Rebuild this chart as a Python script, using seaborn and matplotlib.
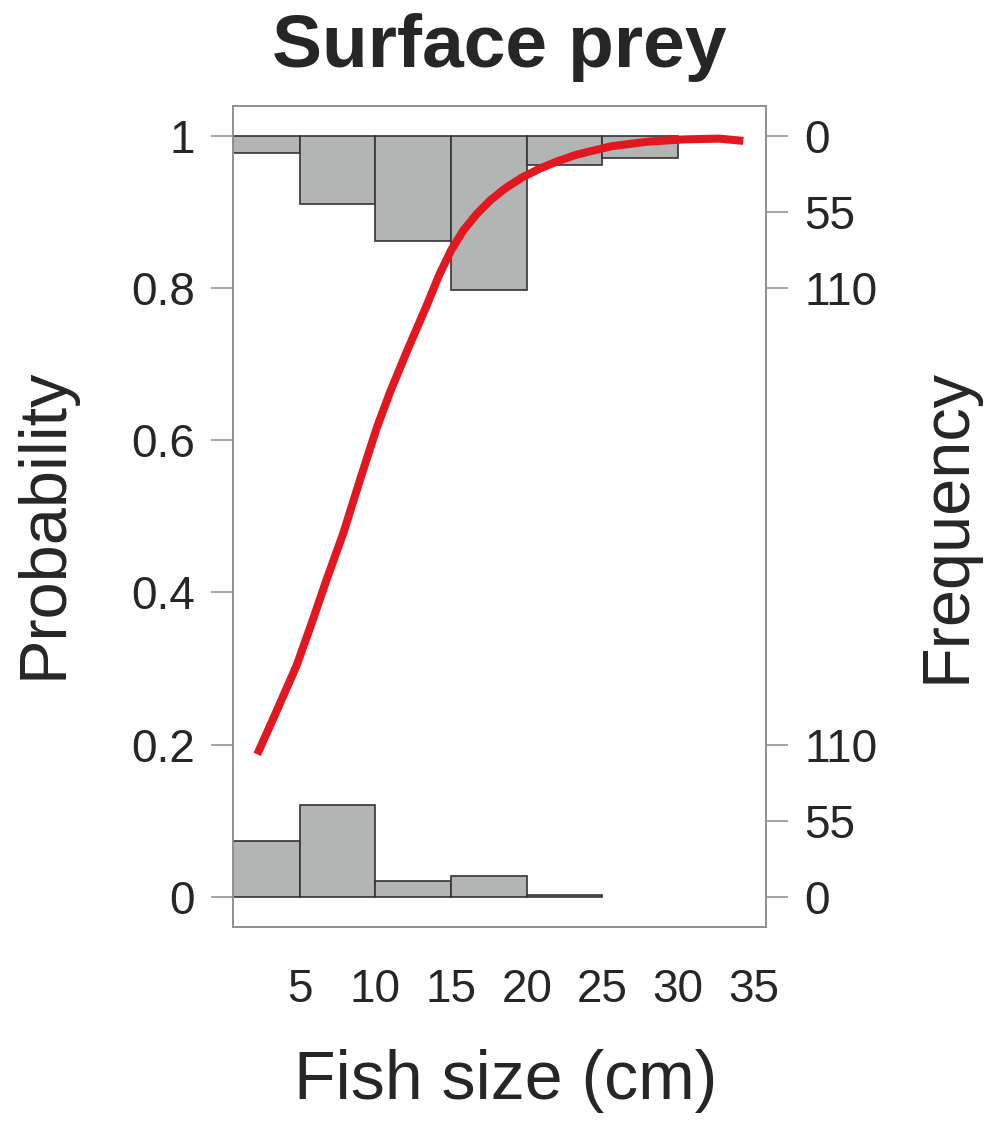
import numpy as np
import matplotlib
matplotlib.use("Agg")
import matplotlib.pyplot as plt
import seaborn as sns

# fitted probability curve
fish_size = [2.2, 3.5, 4.8, 5.8, 6.8, 7.9, 9.0, 10.1, 11.0, 12.1, 13.4, 14.2,
             15.0, 15.8, 16.7, 17.6, 18.6, 19.7, 20.9, 22.0, 23.3, 25.6,
             28.0, 30.4, 32.7, 34.3]
probability = [0.187, 0.245, 0.304, 0.360, 0.418, 0.479, 0.549, 0.617, 0.665,
               0.718, 0.778, 0.817, 0.850, 0.876, 0.898, 0.916, 0.932, 0.946,
               0.958, 0.967, 0.976, 0.987, 0.993, 0.996, 0.997, 0.994]

# histograms of observations (counts per 5 cm bin)
bin_edges = [0, 5, 10, 15, 20, 25, 30]
freq_absent = [40, 66, 11, 15, 1]          # drawn up from 0
freq_present = [12, 49, 76, 111, 21, 16]   # drawn down from 1

freq_ticks = [0, 55, 110]
freq_scale = 550  # counts per unit of probability

sns.set_theme(style="white")
plt.rcParams["font.family"] = ["Liberation Sans", "DejaVu Sans"]

text_col = "#262626"
frame_col = "#8c8c8c"
bar_col = "#b3b5b4"
red = "#e3171f"

fig = plt.figure(figsize=(9.92, 11.21), dpi=100, facecolor="white")
ax = fig.add_axes([0.2349, 0.1731, 0.5373, 0.7324])

widths = np.diff(bin_edges)
ax.bar(bin_edges[:len(freq_absent)], np.array(freq_absent) / freq_scale,
       width=widths[:len(freq_absent)], align="edge", bottom=0,
       color=bar_col, edgecolor="#333333", linewidth=1.2)
ax.bar(bin_edges[:len(freq_present)], -np.array(freq_present) / freq_scale,
       width=widths[:len(freq_present)], align="edge", bottom=1,
       color=bar_col, edgecolor="#333333", linewidth=1.2)

sns.lineplot(x=fish_size, y=probability, color=red, linewidth=5.8, ax=ax,
             solid_capstyle="butt", solid_joinstyle="round")

ax.set_xlim(0.6, 35.8)
ax.set_ylim(-0.04, 1.04)
ax.set_xticks([5, 10, 15, 20, 25, 30, 35])
ax.set_yticks([0, 0.2, 0.4, 0.6, 0.8, 1])
ax.set_yticklabels(["0", "0.2", "0.4", "0.6", "0.8", "1"])

# right-hand frequency axis (bottom histogram up, top histogram down)
ax2 = ax.twinx()
ax2.set_ylim(ax.get_ylim())
pos = [f / freq_scale for f in freq_ticks] + [1 - f / freq_scale for f in freq_ticks[::-1]]
lab = [str(f) for f in freq_ticks] + [str(f) for f in freq_ticks[::-1]]
ax2.set_yticks(pos)
ax2.set_yticklabels(lab)

for a in (ax, ax2):
    a.tick_params(axis="both", length=15.5, width=1.1, color=frame_col,
                  labelsize=33, labelcolor=text_col, pad=12)
    for s in a.spines.values():
        s.set_color(frame_col)
        s.set_linewidth(1.1)
ax.tick_params(axis="x", pad=14)
ax.set_xlabel("")
ax.set_ylabel("")
ax2.set_ylabel("")

fig.text(0.503, 0.958, "Surface prey", ha="center", va="center",
         fontsize=54, fontweight="bold", color=text_col)
fig.text(0.510, 0.036, "Fish size (cm)", ha="center", va="center",
         fontsize=49, color=text_col)
fig.text(0.045, 0.533, "Probability", ha="center", va="center",
         rotation=90, fontsize=48, color=text_col)
fig.text(0.955, 0.531, "Frequency", ha="center", va="center",
         rotation=90, fontsize=48, color=text_col)

fig.savefig("out.png", dpi=100, facecolor="white")
